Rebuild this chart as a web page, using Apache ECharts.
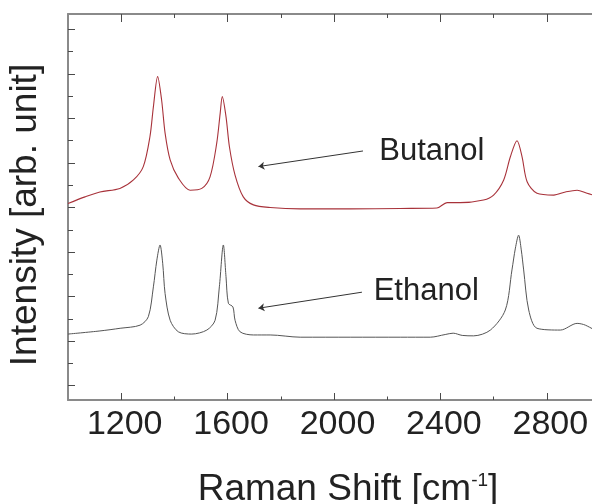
<!DOCTYPE html>
<html>
<head>
<meta charset="utf-8">
<script src="https://cdn.jsdelivr.net/npm/echarts@6/dist/echarts.min.js"></script>
<style>
  html, body { margin: 0; padding: 0; background: #fff; }
  #chart { width: 592px; height: 504px; }
</style>
</head>
<body>
<div id="chart"></div>
<script>
// Raman spectra (shift in cm-1, intensity in arb. unit)
const butanolShift = [1000, 1064, 1120, 1195, 1246, 1283, 1308, 1321, 1337, 1352,
  1365, 1384, 1415, 1459, 1503, 1534, 1559, 1572, 1580, 1594,
  1607, 1628, 1659, 1697, 1760, 1873, 2061, 2249, 2387, 2425,
  2475, 2562, 2600, 2638, 2663, 2688, 2707, 2726, 2763, 2826,
  2870, 2914, 2951, 3000];
const butanolIntensity = [4.09, 4.24, 4.35, 4.43, 4.62, 4.92, 5.59, 6.26, 6.94, 6.41,
  5.67, 5.07, 4.66, 4.39, 4.43, 4.69, 5.44, 6.11, 6.49, 6.04,
  5.36, 4.73, 4.24, 4.06, 4.00, 3.97, 3.97, 3.98, 3.99, 4.11,
  4.11, 4.17, 4.28, 4.62, 5.14, 5.50, 5.14, 4.58, 4.32, 4.28,
  4.35, 4.39, 4.32, 4.24];

const ethanolShift = [1000, 1120, 1196, 1271, 1302, 1321, 1334, 1346, 1356, 1365,
  1384, 1415, 1465, 1522, 1553, 1569, 1584, 1594, 1603, 1620,
  1628, 1647, 1697, 1760, 1873, 2061, 2249, 2362, 2418, 2448,
  2482, 2525, 2588, 2644, 2669, 2682, 2694, 2704, 2713, 2732,
  2763, 2851, 2914, 2945, 3000];
const ethanolIntensity = [1.16, 1.23, 1.29, 1.36, 1.55, 2.22, 2.82, 3.16, 2.75, 2.07,
  1.47, 1.21, 1.16, 1.25, 1.47, 2.22, 3.16, 2.45, 1.85, 1.77,
  1.47, 1.21, 1.14, 1.14, 1.09, 1.09, 1.09, 1.09, 1.15, 1.18,
  1.13, 1.12, 1.25, 1.70, 2.60, 3.09, 3.38, 3.05, 2.60, 1.70,
  1.29, 1.25, 1.40, 1.36, 1.18];

// tick positions
const xMajor = [1200, 1600, 2000, 2400, 2800];
const xMinor = [1400, 1800, 2200, 2600];
const yMajor = [0, 1, 2, 3, 4, 5, 6, 7, 8];
const yMinor = [0.5, 1.5, 2.5, 3.5, 4.5, 5.5, 6.5, 7.5];

// arrow tail, arrow head side, label anchor
const butanolNote = [[1716, 4.92], [2109, 5.27], [2170, 5.26]];
const ethanolNote = [[1716, 1.74], [2105, 2.10], [2149, 2.11]];

const font = 'Liberation Sans, Arial, Helvetica, sans-serif';
const xMin = 1000, xMax = 3000, yMin = -0.32, yMax = 8.345;

function pairs(xs, ys) {
  return xs.map((x, i) => [x, ys[i]]);
}

// one axis = line + one set of inward ticks
function frameAxis(pos, min, max, ticks, len, withLine) {
  return {
    type: 'value',
    position: pos,
    min: min,
    max: max,
    axisLine: { show: withLine, onZero: false, lineStyle: { color: '#8a8a8a', width: 2 } },
    axisTick: { show: true, inside: true, length: len, customValues: ticks,
      lineStyle: { color: '#4a4a4a', width: 1 } },
    axisLabel: { show: false },
    splitLine: { show: false }
  };
}

function note(p) {
  return {
    silent: true,
    symbol: ['arrow', 'none'],
    symbolSize: 6,
    lineStyle: { color: '#333', width: 1, type: 'solid' },
    label: { show: false },
    data: [[{ coord: p[0] }, { coord: p[1] }]]
  };
}

function noteText(p, text) {
  return {
    silent: true,
    symbol: 'circle',
    symbolSize: 0,
    label: { show: true, position: 'right', distance: 0, formatter: '{b}',
      fontSize: 31, color: '#222', fontFamily: font },
    data: [{ name: text, coord: p[2] }]
  };
}

const bottom = frameAxis('bottom', xMin, xMax, xMajor, 7, true);
bottom.axisLabel = { show: true, customValues: xMajor, margin: 8, fontSize: 34,
  color: '#222', fontFamily: font, padding: [0, 0, 0, 7],
  formatter: v => String(v) };
bottom.name = '{a|Raman Shift [cm}{s|-1}{a|]}';
bottom.nameLocation = 'middle';
bottom.nameGap = 71;
bottom.nameTextStyle = {
  padding: [0, 0, 0, 28],
  rich: {
    a: { fontSize: 37, lineHeight: 37, color: '#222', fontFamily: font },
    s: { fontSize: 19, lineHeight: 19, color: '#222', fontFamily: font, verticalAlign: 'top' }
  }
};

const left = frameAxis('left', yMin, yMax, yMajor, 7, true);
left.name = 'Intensity [arb. unit]';
left.nameLocation = 'middle';
left.nameGap = 24;
left.nameTextStyle = { fontSize: 37, color: '#222', fontFamily: font, padding: [0, 16, 0, 0] };

const chart = echarts.init(document.getElementById('chart'));
chart.setOption({
  animation: false,
  grid: { left: 68, right: -8, top: 14, bottom: 104, outerBoundsMode: 'none' },
  xAxis: [
    bottom,
    frameAxis('bottom', xMin, xMax, xMinor, 3.5, false),
    frameAxis('top', xMin, xMax, xMajor, 8, true),
    frameAxis('top', xMin, xMax, xMinor, 4, false)
  ],
  yAxis: [
    left,
    frameAxis('left', yMin, yMax, yMinor, 5, false),
    frameAxis('right', yMin, yMax, yMajor, 7, true),
    frameAxis('right', yMin, yMax, yMinor, 4, false)
  ],
  series: [{
    name: 'Butanol',
    type: 'line',
    data: pairs(butanolShift, butanolIntensity),
    showSymbol: false,
    smooth: 0.3,
    lineStyle: { color: '#a8323a', width: 1.1 },
    markLine: note(butanolNote),
    markPoint: noteText(butanolNote, 'Butanol')
  }, {
    name: 'Ethanol',
    type: 'line',
    data: pairs(ethanolShift, ethanolIntensity),
    showSymbol: false,
    smooth: 0.3,
    lineStyle: { color: '#555', width: 1 },
    markLine: note(ethanolNote),
    markPoint: noteText(ethanolNote, 'Ethanol')
  }]
});
</script>
</body>
</html>
